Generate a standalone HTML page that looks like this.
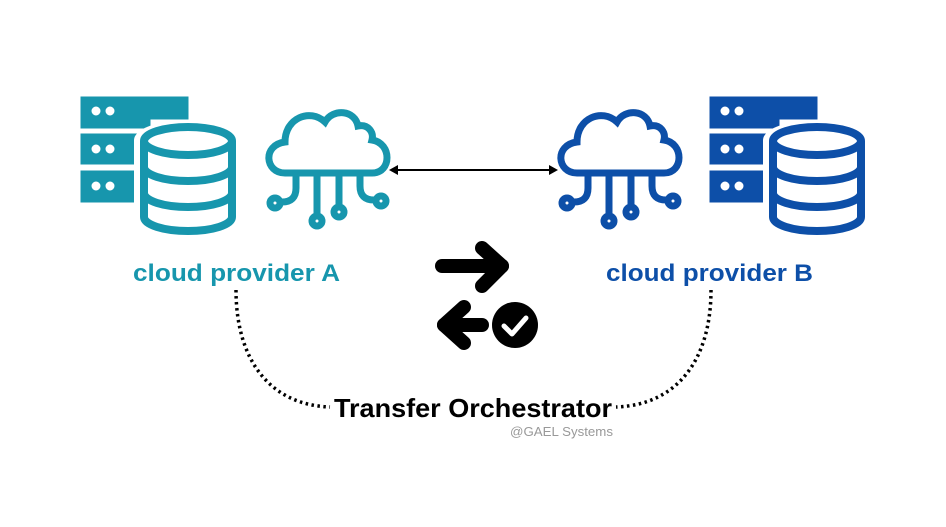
<!DOCTYPE html>
<html><head><style>html,body{margin:0;padding:0;background:#fff}svg{display:block}</style></head>
<body>
<svg width="946" height="527" viewBox="0 0 946 527" xmlns="http://www.w3.org/2000/svg">
<defs>
<g id="srv">
  <path d="M81 97 H188 V119 H150 V128 H81 Z"/>
  <rect x="81" y="134" width="80" height="30"/>
  <rect x="81" y="171" width="70" height="31"/>
  <circle cx="96" cy="111" r="5" fill="#fff"/><circle cx="110" cy="111" r="5" fill="#fff"/>
  <circle cx="96" cy="149" r="5" fill="#fff"/><circle cx="110" cy="149" r="5" fill="#fff"/>
  <circle cx="96" cy="186" r="5" fill="#fff"/><circle cx="110" cy="186" r="5" fill="#fff"/>
  <path d="M134 140 V218 A54 20 0 0 0 242 218 V140 A54 20 0 0 0 134 140 Z" fill="#fff" stroke="none"/>
  <g fill="none" stroke-width="8">
    <ellipse cx="188" cy="141" rx="44" ry="14"/>
    <path d="M144 141 V217 A44 14 0 0 0 232 217 V141"/>
    <path d="M144 167 A44 14 0 0 0 232 167"/>
    <path d="M144 193 A44 14 0 0 0 232 193"/>
  </g>
</g>
<g id="cld" fill="none" stroke-width="7" stroke-linecap="round">
  <path d="M285 173 C265 173 262 145 285 142 C285 118 310 108 325 122 C333 108 355 110 358 126 C368 124 374 132 372 140 C392 143 392 173 372 173 Z"/>
  <path d="M296 173 V188 Q296 202 282 202"/>
  <circle cx="275" cy="203" r="5"/>
  <path d="M317 173 V215"/><circle cx="317" cy="221" r="5"/>
  <path d="M339 173 V206"/><circle cx="339" cy="212" r="5"/>
  <path d="M360 173 V186 Q360 200 374 200"/>
  <circle cx="381" cy="201" r="5"/>
</g>
</defs>
<g fill="#1796ad" stroke="#1796ad"><use href="#srv"/></g>
<g stroke="#1796ad"><use href="#cld"/></g>
<g fill="#0d4fa8" stroke="#0d4fa8"><use href="#srv" transform="translate(629 0)"/></g>
<g stroke="#0d4fa8"><use href="#cld" transform="translate(292 0)"/></g>

<line x1="396" y1="170" x2="551" y2="170" stroke="#000" stroke-width="2"/>
<path d="M398 165 L389 170 L398 175 Z" fill="#000"/>
<path d="M549 165 L558 170 L549 175 Z" fill="#000"/>

<text x="133" y="281" textLength="207" lengthAdjust="spacingAndGlyphs" font-family="Liberation Sans, sans-serif" font-weight="bold" font-size="24" fill="#1796ad">cloud provider A</text>
<text x="606" y="281" textLength="207" lengthAdjust="spacingAndGlyphs" font-family="Liberation Sans, sans-serif" font-weight="bold" font-size="24" fill="#0d4fa8">cloud provider B</text>

<g stroke="#000" stroke-width="14" stroke-linecap="round" stroke-linejoin="round" fill="none">
  <path d="M442 266 H502"/><path d="M482 248 L502 266 L482 286"/>
  <path d="M444 325 H482"/><path d="M464 307 L444 325 L464 343"/>
</g>
<circle cx="515" cy="325" r="23" fill="#000"/>
<path d="M504 326 L512 334 L526 318" fill="none" stroke="#fff" stroke-width="5" stroke-linecap="round" stroke-linejoin="round"/>

<g fill="none" stroke="#000" stroke-width="3.5" stroke-dasharray="2.5 3.5">
  <path d="M236 290 C236 360 270 405 330 407"/>
  <path d="M711 290 C711 360 677 405 616 407"/>
</g>
<text x="334" y="417" textLength="278" lengthAdjust="spacingAndGlyphs" font-family="Liberation Sans, sans-serif" font-weight="bold" font-size="26" fill="#000">Transfer Orchestrator</text>
<text x="510" y="436" textLength="103" lengthAdjust="spacingAndGlyphs" font-family="Liberation Sans, sans-serif" font-size="13" fill="#999">@GAEL Systems</text>
</svg>
</body></html>
